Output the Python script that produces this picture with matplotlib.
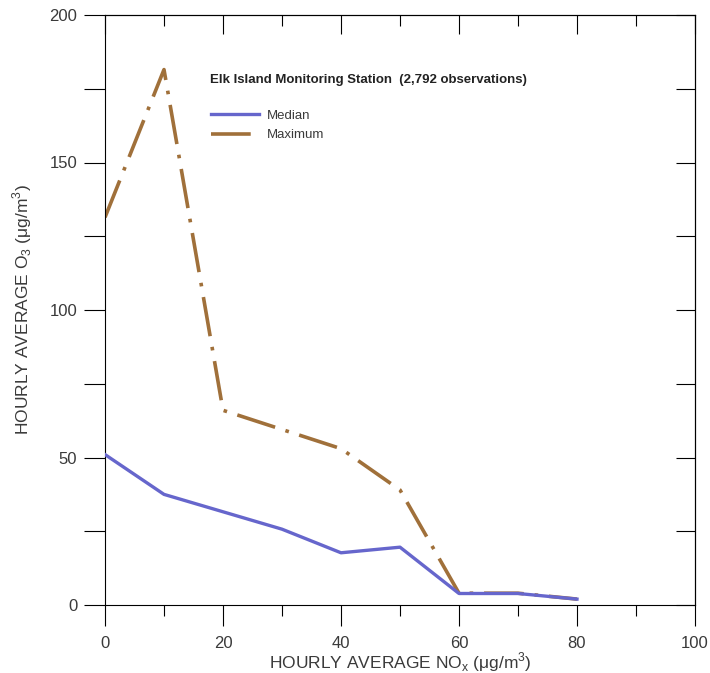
import matplotlib.pyplot as plt
from matplotlib.ticker import MultipleLocator

plt.rcParams['font.family'] = ['Liberation Sans', 'DejaVu Sans']

nox = [0, 10, 20, 30, 40, 50, 60, 70, 80]
median_o3 = [51, 37.5, 31.6, 25.7, 17.7, 19.6, 3.9, 3.9, 2.0]
max_o3 = [131.4, 181.5, 66, 59.5, 53, 39, 4, 4, 2]

title = "Elk Island Monitoring Station  (2,792 observations)"

txt = "#3a3a3a"
fig = plt.figure(figsize=(7.1, 6.73), dpi=100)
ax = fig.add_axes([105/710, 68/673, 590/710, 590/673])

ax.plot(nox, max_o3, color="#a0703a", lw=2.6, linestyle=(0, (11, 3, 1, 3)),
        label="Maximum", zorder=2)
ax.plot(nox, median_o3, color="#6666cc", lw=2.4, label="Median", zorder=3)

ax.set_xlim(0, 100)
ax.set_ylim(0, 200)
ax.xaxis.set_major_locator(MultipleLocator(20))
ax.xaxis.set_minor_locator(MultipleLocator(10))
ax.yaxis.set_major_locator(MultipleLocator(50))
ax.yaxis.set_minor_locator(MultipleLocator(25))
ax.tick_params(axis="x", which="major", direction="out", length=15, width=0.8,
               labelsize=12, labelcolor=txt, pad=7)
ax.tick_params(axis="x", which="minor", direction="out", length=8, width=0.8)
ax.tick_params(axis="y", which="both", direction="out", length=15, width=0.8,
               labelsize=12, labelcolor=txt, pad=5)

top = ax.secondary_xaxis("top")
top.xaxis.set_major_locator(MultipleLocator(20))
top.xaxis.set_minor_locator(MultipleLocator(10))
top.tick_params(which="major", direction="in", length=14, width=0.8, labeltop=False)
top.tick_params(which="minor", direction="in", length=8, width=0.8)
right = ax.secondary_yaxis("right")
right.yaxis.set_major_locator(MultipleLocator(50))
right.yaxis.set_minor_locator(MultipleLocator(25))
right.tick_params(which="both", direction="in", length=14, width=0.8, labelright=False)

for sp in ax.spines.values():
    sp.set_linewidth(0.8)

ax.set_xlabel("HOURLY AVERAGE NO$_\\mathregular{x}$ ($\\mathregular{\\mu}$g/m$^\\mathregular{3}$)",
              fontsize=12.5, color=txt, labelpad=0)
ax.set_ylabel("HOURLY AVERAGE O$_\\mathregular{3}$ ($\\mathregular{\\mu}$g/m$^\\mathregular{3}$)",
              fontsize=12.5, color=txt, labelpad=11)

ax.text(0.178, 0.89, title, transform=ax.transAxes, fontsize=9.5,
        fontweight="bold", color="#222222", va="center")
handles, labels = ax.get_legend_handles_labels()
ax.legend(handles[::-1], labels[::-1], loc="upper left", bbox_to_anchor=(0.16, 0.86),
          frameon=False, fontsize=9.5, handlelength=3.6, labelspacing=0.55,
          handletextpad=0.6, labelcolor=txt)

fig.savefig("out.png", dpi=100)
